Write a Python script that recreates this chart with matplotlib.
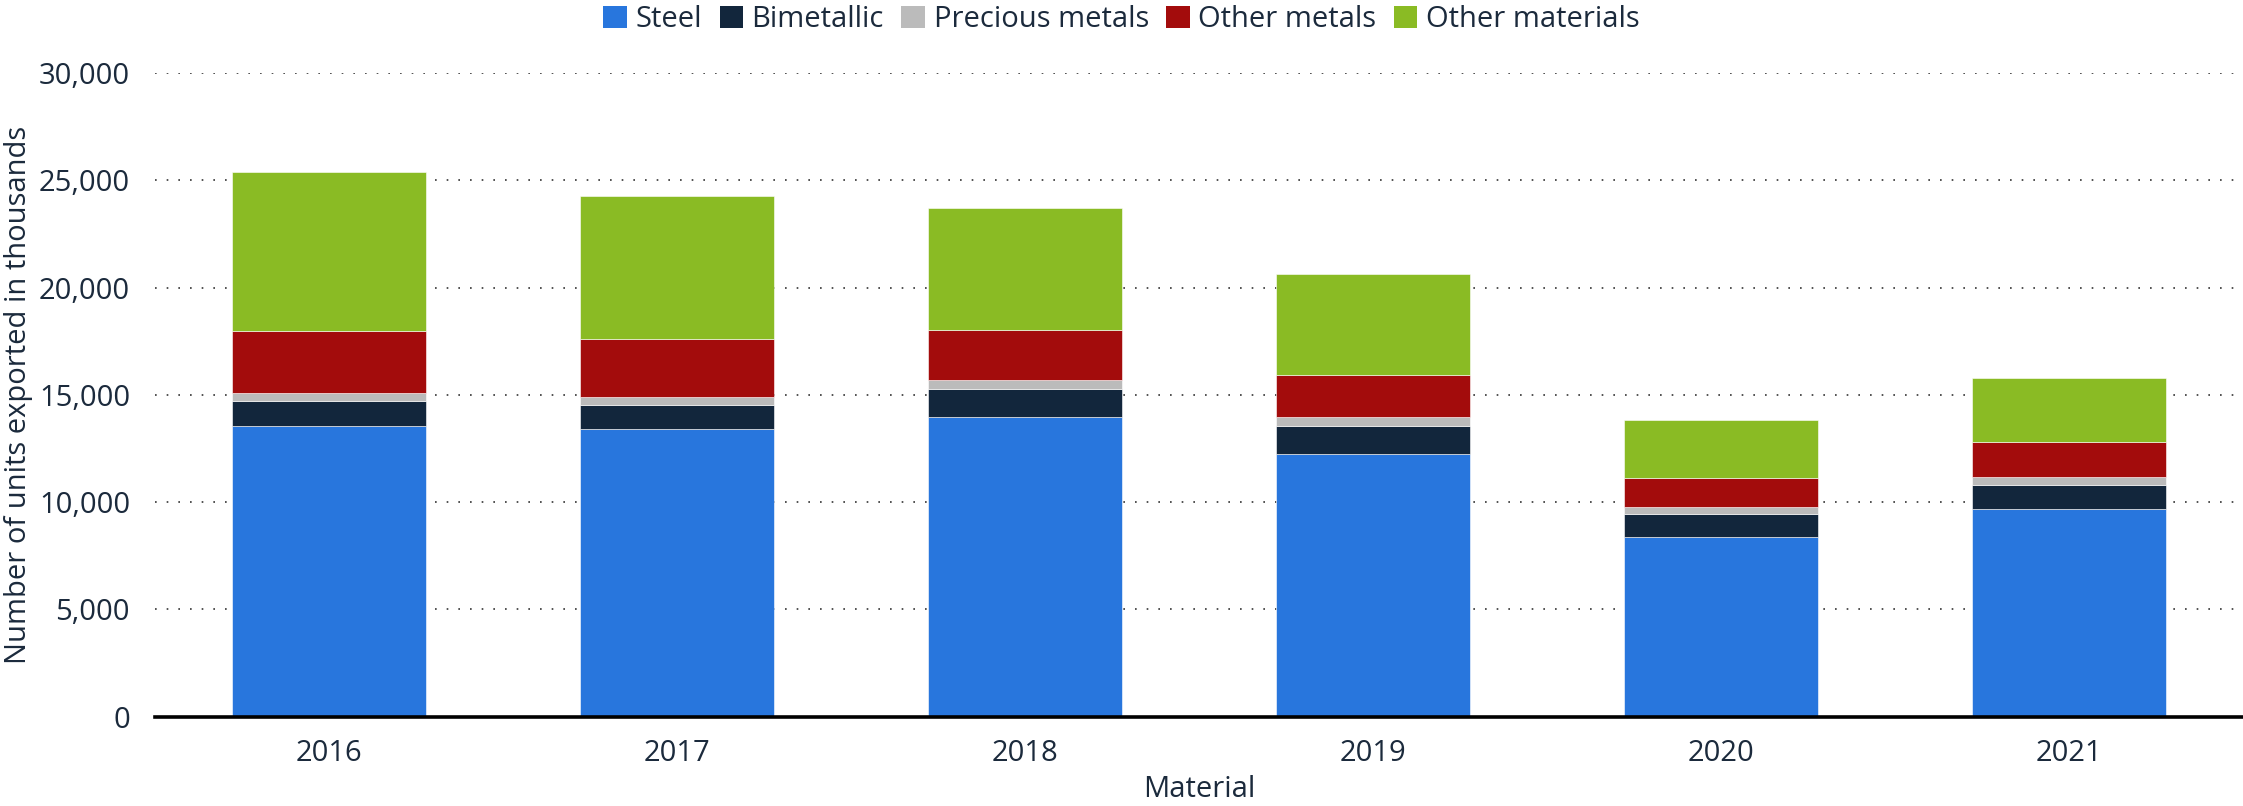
import matplotlib
matplotlib.use('Agg')
import matplotlib.pyplot as plt
from matplotlib.patches import Patch
from matplotlib.ticker import FuncFormatter
import numpy as np

plt.rcParams['font.family'] = ['Open Sans', 'DejaVu Sans']

years = ['2016', '2017', '2018', '2019', '2020', '2021']
steel = [13550, 13390, 13960, 12250, 8390, 9680]
bimetallic = [1180, 1145, 1300, 1315, 1055, 1105]
precious = [375, 355, 415, 415, 340, 405]
other_metals = [2890, 2700, 2330, 1950, 1320, 1600]
other_materials = [7375, 6700, 5690, 4690, 2705, 2985]

series = [
    ('Steel', steel, '#2876dd'),
    ('Bimetallic', bimetallic, '#12263c'),
    ('Precious metals', precious, '#bbbbbb'),
    ('Other metals', other_metals, '#a30c0c'),
    ('Other materials', other_materials, '#8abb24'),
]

text_col = '#1b2a3c'
fs = 21

fig = plt.figure(figsize=(22.43, 8.06), dpi=100)
ax = fig.add_axes([155/2243, 1 - 716.7/806, 1 - 155/2243, (716.7 - 73)/806])

x = np.arange(len(years))
bottom = np.zeros(len(years))
for name, vals, col in series:
    ax.bar(x, vals, 0.557, bottom=bottom, color=col, edgecolor='white', linewidth=0.4, label=name, zorder=2)
    bottom += np.array(vals)

ax.set_xlim(-0.5, 5.5)
ax.set_ylim(0, 30000)
ax.set_yticks(range(0, 30001, 5000))
ax.yaxis.set_major_formatter(FuncFormatter(lambda v, p: f'{int(v):,}'))
ax.set_xticks(x)
ax.set_xticklabels(years)

ax.set_axisbelow(True)
ax.yaxis.grid(True, linestyle=(0, (1, 6)), linewidth=1.2, color='#333333')
ax.xaxis.grid(False)

for s in ['top', 'right', 'left']:
    ax.spines[s].set_visible(False)
ax.spines['bottom'].set_linewidth(2.6)
ax.spines['bottom'].set_color('black')
ax.spines['bottom'].set_zorder(3)

ax.tick_params(axis='y', length=0, pad=18, labelsize=fs, labelcolor=text_col)
ax.tick_params(axis='x', length=0, pad=16, labelsize=fs, labelcolor=text_col)

ax.set_ylabel('Number of units exported in thousands', fontsize=fs, color=text_col, labelpad=4)
ax.set_xlabel('Material', fontsize=fs, color=text_col, labelpad=5)

handles = [Patch(facecolor=col, label=name) for name, vals, col in series]
fig.legend(handles=handles, loc='upper center', bbox_to_anchor=(0.5, 1.026), ncol=5,
           frameon=False, fontsize=fs, handlelength=0.8, handleheight=0.8,
           handletextpad=0.3, columnspacing=0.6, labelcolor=text_col)

fig.savefig('out.png', dpi=100)
